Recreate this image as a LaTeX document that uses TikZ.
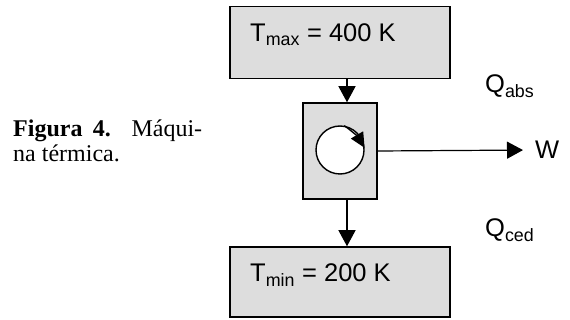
\documentclass[tikz,border=0pt]{standalone}
\usepackage{fontspec}
\setmainfont{Liberation Serif}
\newfontfamily\arialfont{Liberation Sans}
\definecolor{ReservoirGray}{HTML}{DDDDDD}
\usetikzlibrary{arrows.meta,positioning,calc}

\tikzset{
  reservoir/.style={draw, line width=1.5pt, fill=ReservoirGray,
    minimum width=220pt, minimum height=72pt, inner sep=0pt},
  enginebox/.style={draw, line width=1.5pt, fill=ReservoirGray,
    minimum width=74pt, minimum height=96pt, inner sep=0pt},
  flow/.style={line width=1.2pt, -{Triangle[length=16pt,width=17pt]}},
  bigtext/.style={font=\arialfont\fontsize{25.5}{28}\selectfont, inner sep=0pt}
}

\begin{document}
\begin{tikzpicture}[x=1pt,y=-1pt]
    \useasboundingbox (0,0) rectangle (570,320);

    % reservoirs and engine
    \node[reservoir] (hot) at (340,42.5) {};
    \node[reservoir, minimum height=70pt] (cold) at (340,282) {};
    \node[enginebox] (engine) at (340,151) {};

    \node[bigtext, anchor=base west] (hotlabel) at (250,42)
      {T\textsubscript{max} = 400 K};
    \node[bigtext, anchor=base west] (coldlabel) at (250,282)
      {T\textsubscript{min} = 200 K};

    % cycle symbol
    \node[draw, circle, line width=1.4pt, fill=white,
      minimum size=48pt, inner sep=0pt] (cycle) at (340,150) {};
    \draw[line width=1.4pt, -{Triangle[length=15pt,width=14pt]}]
      (cycle.80) to[bend left=12] (cycle.5);

    % heat and work flows
    \draw[flow] ([xshift=7pt]hot.south) -- ([xshift=7pt]engine.north);
    \draw[flow] ([xshift=7pt]engine.south) -- ([xshift=7pt]cold.north);

    \node[bigtext, anchor=west] (work) at (535,150) {W};
    \draw[flow, shorten >=12pt] (engine.east) -- (work.west);

    \node[bigtext, anchor=base west] (qabs) at (485,93) {Q\textsubscript{abs}};
    \node[bigtext, anchor=base west] (qced) at (485,237) {Q\textsubscript{ced}};

    % caption
    \node[anchor=north west, text width=189pt, align=justify, inner sep=0pt,
      font=\fontsize{24}{25}\selectfont] (caption) at (13,120)
      {\hbadness=10000 \textbf{Figura 4.} Máqui-\linebreak na térmica.};
\end{tikzpicture}
\end{document}
